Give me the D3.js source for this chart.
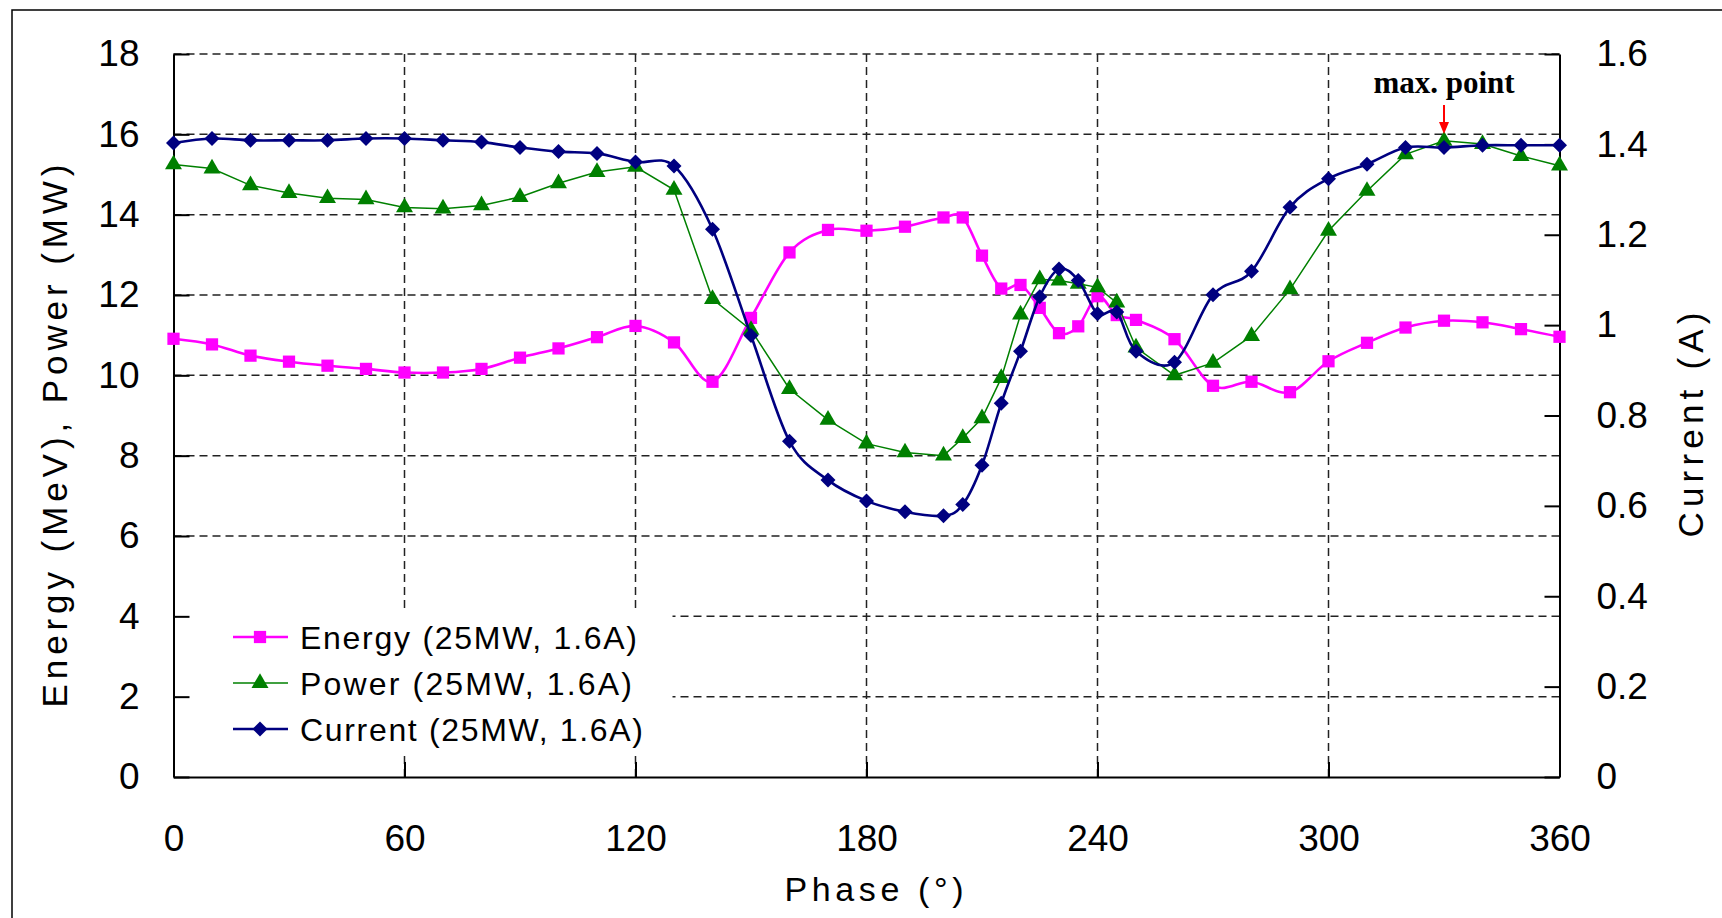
<!DOCTYPE html>
<meta charset="utf-8">
<title>Energy, Power and Current vs Phase</title>
<style>
  html, body { margin: 0; background: #fff; }
  svg text { font-family: "Liberation Sans", Arial, sans-serif; fill: #000; }
  .grid line { stroke: #222; stroke-width: 1.5; stroke-dasharray: 8,5; }
  .axis path, .axis line { stroke: #000; stroke-width: 2; }
  .axis text { font-size: 37px; }
</style>
<body>
<script src="https://d3js.org/d3.v7.min.js"></script>
<script>

// phase points (deg)
var phases = [0, 10, 20, 30, 40, 50, 60, 70, 80, 90, 100, 110, 120, 130, 140, 150, 160, 170, 180, 190, 200,
              205, 210, 215, 220, 225, 230, 235, 240, 245, 250,
              260, 270, 280, 290, 300, 310, 320, 330, 340, 350, 360];

// Energy (MeV)
var energy = [10.91, 10.77, 10.49, 10.34, 10.24, 10.16, 10.07, 10.07, 10.16, 10.44, 10.67, 10.95, 11.23, 10.82, 9.84, 11.43, 13.06, 13.62, 13.60, 13.70, 13.93,
              13.93, 12.98, 12.16, 12.25, 11.68, 11.05, 11.22, 11.97, 11.50, 11.38,
              10.90, 9.74, 9.84, 9.58, 10.35, 10.81, 11.19, 11.36, 11.32, 11.15, 10.96];

// Power (MW)
var power = [15.25, 15.15, 14.73, 14.54, 14.41, 14.38, 14.18, 14.15, 14.23, 14.44, 14.78, 15.06, 15.19, 14.62, 11.90, 11.13, 9.66, 8.89, 8.30, 8.08, 8.00,
             8.44, 8.93, 9.93, 11.51, 12.39, 12.36, 12.28, 12.19, 11.81, 10.69,
             10.00, 10.31, 10.98, 12.14, 13.60, 14.59, 15.50, 15.84, 15.76, 15.46, 15.22];

// Current (A)
var current = [1.403, 1.413, 1.409, 1.409, 1.409, 1.413, 1.413, 1.409, 1.405, 1.393, 1.384, 1.380, 1.361, 1.352, 1.212, 0.977, 0.743, 0.657, 0.611, 0.587, 0.578,
               0.603, 0.690, 0.827, 0.942, 1.063, 1.124, 1.099, 1.025, 1.029, 0.942,
               0.918, 1.067, 1.119, 1.261, 1.324, 1.356, 1.393, 1.393, 1.398, 1.398, 1.398];

var xTicks = [0, 60, 120, 180, 240, 300, 360];
var leftTicks = [0, 2, 4, 6, 8, 10, 12, 14, 16, 18];
var rightTicks = [0, 0.2, 0.4, 0.6, 0.8, 1, 1.2, 1.4, 1.6];
var rightTickLabels = ["0", "0.2", "0.4", "0.6", "0.8", "1", "1.2", "1.4", "1.6"];
var seriesNames = ["Energy (25MW, 1.6A)", "Power (25MW, 1.6A)", "Current (25MW, 1.6A)"];
var maxPhase = 330;

var W = 1722, H = 918;
var plot = {left: 173.5, right: 1559.5, top: 54, bottom: 777};

var x = d3.scaleLinear().domain([0, 360]).range([plot.left, plot.right]);
var y = d3.scaleLinear().domain([0, 18]).range([plot.bottom, plot.top]);
var yR = d3.scaleLinear().domain([0, 1.6]).range([plot.bottom, plot.top]);

var svg = d3.select("body").append("svg")
    .attr("width", W)
    .attr("height", H);

svg.append("rect").attr("width", W).attr("height", H).attr("fill", "#fff");

// outer frame (top and left edges visible)
svg.append("path")
    .attr("d", "M12," + H + "V10H" + W)
    .attr("fill", "none")
    .attr("stroke", "#000")
    .attr("stroke-width", 1.5);

// grid
var grid = svg.append("g").attr("class", "grid");
grid.selectAll(".h").data(leftTicks.filter(function(d) { return d > 0; }))
  .enter().append("line")
    .attr("x1", plot.left).attr("x2", plot.right)
    .attr("y1", function(d) { return y(d); })
    .attr("y2", function(d) { return y(d); });
grid.selectAll(".v").data(xTicks.filter(function(d) { return d > 0 && d < 360; }))
  .enter().append("line")
    .attr("y1", plot.top).attr("y2", plot.bottom)
    .attr("x1", function(d) { return x(d); })
    .attr("x2", function(d) { return x(d); });

// legend background hides the grid behind it
svg.append("rect")
    .attr("x", plot.left + 1).attr("y", 608)
    .attr("width", 498).attr("height", 144)
    .attr("fill", "#fff");

// axes, ticks inside
svg.append("g")
    .attr("class", "axis")
    .attr("transform", "translate(" + plot.left + ",0)")
    .call(d3.axisLeft(y).tickValues(leftTicks).tickFormat(d3.format("d"))
        .tickSizeInner(-16).tickSizeOuter(0).tickPadding(34));

svg.append("g")
    .attr("class", "axis")
    .attr("transform", "translate(" + plot.right + ",0)")
    .call(d3.axisRight(yR).tickValues(rightTicks)
        .tickFormat(function(d, i) { return rightTickLabels[i]; })
        .tickSizeInner(-15).tickSizeOuter(0).tickPadding(37));

svg.append("g")
    .attr("class", "axis")
    .attr("transform", "translate(0," + plot.bottom + ")")
    .call(d3.axisBottom(x).tickValues(xTicks).tickFormat(d3.format("d"))
        .tickSizeInner(-15).tickSizeOuter(0).tickPadding(48));

svg.selectAll(".axis .domain").attr("stroke-width", 2);
svg.selectAll(".axis text").attr("font-family", null);

// axis titles
svg.append("text")
    .attr("transform", "translate(67," + 436 + ") rotate(-90)")
    .attr("text-anchor", "middle")
    .attr("textLength", 543).attr("lengthAdjust", "spacing")
    .style("font-size", "35px")
    .text("Energy (MeV), Power (MW)");

svg.append("text")
    .attr("transform", "translate(1703," + 425 + ") rotate(-90)")
    .attr("text-anchor", "middle")
    .attr("textLength", 225).attr("lengthAdjust", "spacing")
    .style("font-size", "35px")
    .text("Current (A)");

svg.append("text")
    .attr("x", 874).attr("y", 901)
    .attr("text-anchor", "middle")
    .attr("textLength", 179).attr("lengthAdjust", "spacing")
    .style("font-size", "34px")
    .text("Phase (\u00b0)");

// series
var rows = phases.map(function(p, i) {
  return {p: p, e: energy[i], w: power[i], c: current[i]};
});

var smooth = d3.curveCardinal.tension(0);

var series = [
  {key: "e", scale: y, color: "#ff00ff", width: 2.6, curve: smooth, marker: "square"},
  {key: "w", scale: y, color: "#008000", width: 1.5, curve: d3.curveLinear, marker: "triangle"},
  {key: "c", scale: yR, color: "#000080", width: 2.6, curve: smooth, marker: "diamond"}
];

function symbolFor(s) {
  if (s.marker === "square") return d3.symbol().type(d3.symbolSquare).size(150)();
  if (s.marker === "triangle") return d3.symbol().type(d3.symbolTriangle).size(125)();
  return "M0,-7.5L7.5,0L0,7.5L-7.5,0Z";
}

series.forEach(function(s) {
  var line = d3.line()
      .x(function(d) { return x(d.p); })
      .y(function(d) { return s.scale(d[s.key]); })
      .curve(s.curve);

  svg.append("path")
      .datum(rows)
      .attr("fill", "none")
      .attr("stroke", s.color)
      .attr("stroke-width", s.width)
      .attr("d", line);

  svg.append("g").selectAll("path")
      .data(rows)
    .enter().append("path")
      .attr("transform", function(d) {
        return "translate(" + x(d.p) + "," + s.scale(d[s.key]) + ")";
      })
      .attr("d", symbolFor(s))
      .attr("fill", s.color);
});

// legend
var legend = svg.append("g");
series.forEach(function(s, i) {
  var ly = 637 + i * 46;
  legend.append("line")
      .attr("x1", 233).attr("x2", 288)
      .attr("y1", ly).attr("y2", ly)
      .attr("stroke", s.color)
      .attr("stroke-width", s.width);
  legend.append("path")
      .attr("transform", "translate(260," + ly + ")")
      .attr("d", symbolFor(s))
      .attr("fill", s.color);
  legend.append("text")
      .attr("x", 300).attr("y", ly + 12)
      .attr("textLength", [337, 332, 343][i]).attr("lengthAdjust", "spacing")
      .style("font-size", "32px")
      .text(seriesNames[i]);
});

// max point annotation
var mx = x(maxPhase);
svg.append("text")
    .attr("x", mx).attr("y", 93)
    .attr("text-anchor", "middle")
    .style("font-family", "'Liberation Serif', 'Times New Roman', serif")
    .style("font-weight", "bold")
    .style("font-size", "31px")
    .text("max. point");
svg.append("line")
    .attr("x1", mx).attr("x2", mx)
    .attr("y1", 105).attr("y2", 124)
    .attr("stroke", "#ff0000").attr("stroke-width", 2);
svg.append("path")
    .attr("d", "M" + (mx - 5) + ",122L" + (mx + 5) + ",122L" + mx + ",134Z")
    .attr("fill", "#ff0000");

</script>
</body>
